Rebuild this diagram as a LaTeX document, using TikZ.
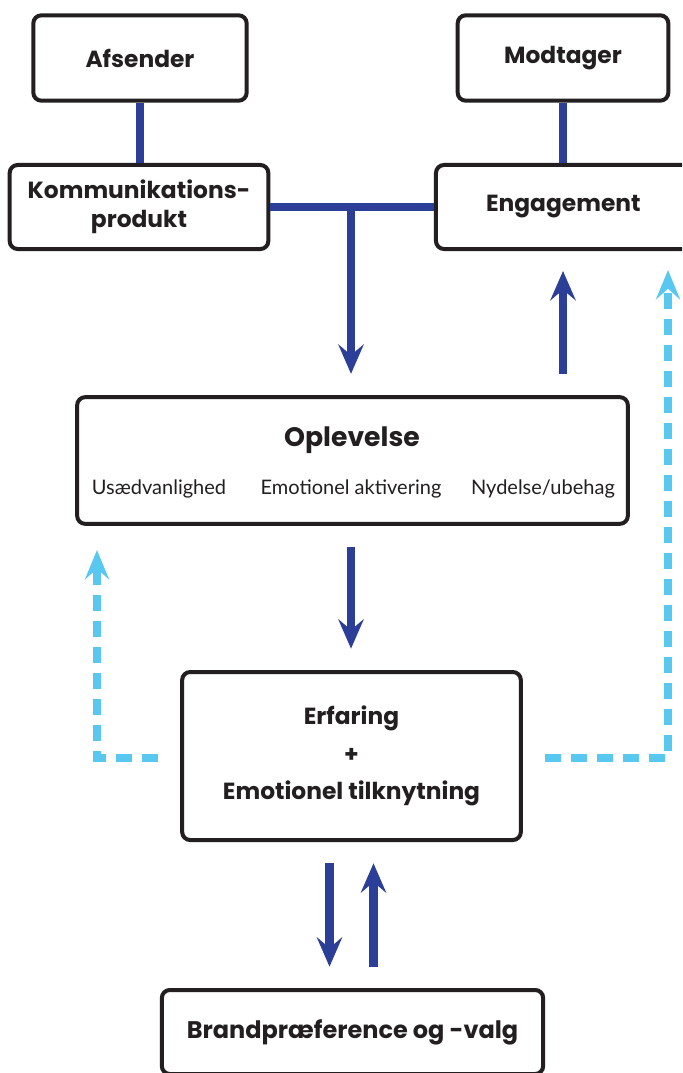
\documentclass[tikz,border=0pt]{standalone}
\usepackage{fontspec}
\setmainfont{Poppins}
\newfontfamily\subfont{Lato}
\usetikzlibrary{arrows.meta,calc}
\definecolor{flowblue}{HTML}{2C3F98}
\definecolor{loopblue}{HTML}{58C8F0}
\definecolor{ink}{HTML}{231F20}

\begin{document}
\begin{tikzpicture}[x=0.75pt,y=-0.75pt,
    >={Stealth[length=22pt,width=19pt,inset=8pt]},
    box/.style={draw=ink,line width=3pt,rounded corners=6pt,fill=white,align=center,
      text=ink,font=\bfseries\fontsize{17.5}{22}\selectfont},
    flow/.style={draw=flowblue,line width=6.5pt},
    loop/.style={draw=loopblue,line width=5.5pt,dash pattern=on 12pt off 7.5pt}]
    \path[use as bounding box] (0,0) rectangle (682,1073);
    \clip (0,0) rectangle (682,1073);
    \fill[white] (0,0) rectangle (682,1073);

    % top row
    \node[box,minimum width=160pt,minimum height=64pt] (afs) at (140,58) {Afsender};
    \node[box,minimum width=158pt,minimum height=64pt] (mod) at (563,58) {Modtager};
    \node[box,minimum width=194pt,minimum height=63pt] (kom) at (139,207) {Kommunikations-\\produkt};
    \node[box,minimum width=200pt,minimum height=63pt,text width=190pt] (eng) at (569.3,207)
      {\hspace*{-9pt}Engagement};

    % experience box with its three parts
    \node[box,minimum width=413pt,minimum height=95pt] (opl) at (352.5,460.5) {};
    \node[text=ink,font=\bfseries\fontsize{20}{24}\selectfont] (opltitle) at (352,440) {Oplevelse};
    \node[text=ink,font=\subfont\fontsize{15}{18}\selectfont] (usa) at (159,489) {Usædvanlighed};
    \node[text=ink,font=\subfont\fontsize{15}{18}\selectfont] (akt) at (351,489) {Emotionel aktivering};
    \node[text=ink,font=\subfont\fontsize{15}{18}\selectfont] (nyd) at (543,489) {Nydelse/ubehag};

    \node[box,minimum width=254pt,minimum height=126pt,
      font=\bfseries\fontsize{17.5}{28}\selectfont] (erf) at (351.5,756) {Erfaring\\+\\Emotionel tilknytning};
    \node[box,minimum width=286pt,minimum height=63pt,
      font=\bfseries\fontsize{18}{22}\selectfont] (brand) at (352.5,1032) {Brandpræference og -valg};

    % connectors
    \coordinate (split) at (351,207);
    \draw[flow] (afs) -- (afs |- kom.north);
    \draw[flow] (mod) -- (mod |- eng.north);
    \draw[flow] (kom.east) -- (eng.west);
    \draw[flow,->,shorten >=16pt] (split) -- (split |- opl.north);
    \draw[flow,->,shorten <=16pt,shorten >=15pt] (mod |- opl.north) -- (mod |- eng.south);
    \draw[flow,->,shorten <=16pt,shorten >=16pt] (split |- opl.south) -- (split |- erf.north);
    \draw[flow,->,shorten <=16pt,shorten >=16pt] ([xshift=-16.5pt]erf.south) -- ([xshift=-16.5pt]erf.south |- brand.north);
    \draw[flow,->,shorten <=16pt,shorten >=16pt] ([xshift=16.5pt]erf.south |- brand.north) -- ([xshift=16.5pt]erf.south);

    % feedback loops
    \coordinate (rtop) at (668,270);
    \coordinate (ltop) at (97,550);
    \draw[loop,->,>={Stealth[length=22pt,width=18pt,inset=8pt]}] ($(erf.east)+(22,2)$) -| (rtop);
    \draw[loop,->,>={Stealth[length=22pt,width=18pt,inset=8pt]}] ($(erf.west)+(-22,2)$) -| (ltop);
\end{tikzpicture}
\end{document}
